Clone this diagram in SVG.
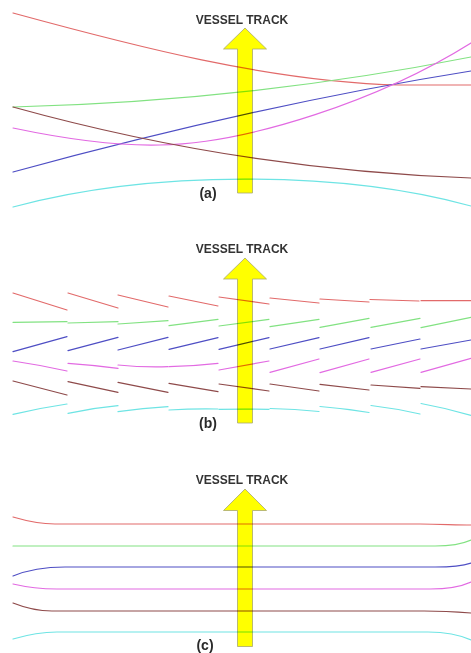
<svg xmlns="http://www.w3.org/2000/svg" width="471" height="653" viewBox="0 0 471 653">
<style>
.bg{fill:#ffffff}
.arrow{fill:#ffff00;stroke:#a8a870;stroke-width:0.8}
.title{font-family:"Liberation Sans",Arial,sans-serif;font-size:12px;font-weight:bold;fill:#333333;text-anchor:middle}
.lbl{font-family:"Liberation Sans",Arial,sans-serif;font-size:14px;font-weight:bold;fill:#2a2a2a;text-anchor:middle}
.tracks{mix-blend-mode:multiply}
.tracks path,.tracks line{fill:none;stroke-width:1.2;stroke-linecap:round}
.r{stroke:#e26a6a}
.g{stroke:#82e282}
.b{stroke:#4e4ec4}
.m{stroke:#e26ae2}
.br{stroke:#8e4a4a}
.c{stroke:#6ee4e4}
</style>
<rect class="bg" x="0" y="0" width="471" height="653"/>

<g id="panel-a">
  <g id="arrow-a">
    <path class="arrow" d="M245,28 L266.5,49 L252.5,49 L252.5,193 L237.5,193 L237.5,49 L223.5,49 Z"/>
    <text class="title" x="242" y="24">VESSEL TRACK</text>
  </g>
  <g id="label-a"><text class="lbl" x="208" y="198">(a)</text></g>
</g>

<g id="panel-b">
  <g id="arrow-b">
    <path class="arrow" d="M245,258 L266.5,279 L252.5,279 L252.5,423 L237.5,423 L237.5,279 L223.5,279 Z"/>
    <text class="title" x="242" y="253">VESSEL TRACK</text>
  </g>
  <g id="label-b"><text class="lbl" x="208" y="428">(b)</text></g>
</g>

<g id="panel-c">
  <g id="arrow-c">
    <path class="arrow" d="M245,489 L266.5,510.5 L252.5,510.5 L252.5,646.5 L237.5,646.5 L237.5,510.5 L223.5,510.5 Z"/>
    <text class="title" x="242" y="484">VESSEL TRACK</text>
  </g>
  <g id="label-c"><text class="lbl" x="205" y="650">(c)</text></g>
</g>

<g id="connectors" class="tracks">
  <!-- (a) continuous tracks -->
  <path class="r" d="M13,13 C130,45 270,82 400,85 L471,85"/>
  <path class="g" d="M13,107 C170,103 330,85 471,57"/>
  <path class="b" d="M13,172 C160,132 320,95 471,71"/>
  <path class="m" d="M13,128 C70,140 120,146 160,145 C250,143 380,100 471,43"/>
  <path class="br" d="M13,107 C150,145 300,172 471,178"/>
  <path class="c" d="M13,207 C150,170 340,170 471,206"/>

  <!-- (b) segmented tracks -->
  <g id="seg-red">
    <line class="r" x1="13" y1="293" x2="67" y2="310"/>
    <line class="r" x1="68" y1="293" x2="118" y2="308"/>
    <line class="r" x1="118" y1="295" x2="168" y2="307"/>
    <line class="r" x1="169" y1="296" x2="218" y2="306"/>
    <line class="r" x1="219" y1="297" x2="269" y2="304"/>
    <line class="r" x1="270" y1="298" x2="319" y2="303"/>
    <line class="r" x1="320" y1="299" x2="369" y2="302"/>
    <line class="r" x1="370" y1="299.5" x2="419" y2="301"/>
    <line class="r" x1="421" y1="300.7" x2="471" y2="300.7"/>
  </g>
  <g id="seg-green">
    <line class="g" x1="13" y1="322.3" x2="67" y2="321.7"/>
    <line class="g" x1="68" y1="323" x2="118" y2="321.7"/>
    <line class="g" x1="118" y1="324" x2="168" y2="320.7"/>
    <line class="g" x1="169" y1="325.7" x2="218" y2="319.3"/>
    <line class="g" x1="219" y1="326" x2="269" y2="319.3"/>
    <line class="g" x1="270" y1="326.7" x2="319" y2="319.3"/>
    <line class="g" x1="320" y1="327.3" x2="369" y2="318.3"/>
    <line class="g" x1="371" y1="327.3" x2="420" y2="318.3"/>
    <line class="g" x1="421" y1="327.7" x2="471" y2="317.3"/>
  </g>
  <g id="seg-blue">
    <line class="b" x1="13" y1="351.7" x2="67" y2="336.7"/>
    <line class="b" x1="68" y1="350.7" x2="118" y2="337.3"/>
    <line class="b" x1="118" y1="350" x2="168" y2="337.3"/>
    <line class="b" x1="169" y1="349.3" x2="218" y2="337.7"/>
    <line class="b" x1="219" y1="349.3" x2="269" y2="337.7"/>
    <line class="b" x1="270" y1="349" x2="319" y2="337.7"/>
    <line class="b" x1="320" y1="349" x2="369" y2="337.7"/>
    <line class="b" x1="371" y1="349" x2="420" y2="339"/>
    <line class="b" x1="421" y1="349" x2="471" y2="340"/>
  </g>
  <g id="seg-magenta">
    <path class="m" d="M13,361 Q40,365 67,371"/>
    <path class="m" d="M68,363.3 Q93,365 118,368.3"/>
    <path class="m" d="M118,365 Q143,367.5 168,366.7"/>
    <path class="m" d="M169,366.7 Q194,366 218,363.3"/>
    <line class="m" x1="219" y1="370" x2="269" y2="361"/>
    <line class="m" x1="270" y1="372.3" x2="319" y2="359"/>
    <line class="m" x1="320" y1="372.7" x2="369" y2="359"/>
    <line class="m" x1="371" y1="372.3" x2="420" y2="359"/>
    <line class="m" x1="421" y1="372.3" x2="471" y2="358.3"/>
  </g>
  <g id="seg-brown">
    <line class="br" x1="13" y1="381" x2="67" y2="395"/>
    <line class="br" x1="68" y1="381.7" x2="118" y2="392.3"/>
    <line class="br" x1="118" y1="382.3" x2="168" y2="392.3"/>
    <line class="br" x1="169" y1="383.3" x2="218" y2="391.7"/>
    <line class="br" x1="219" y1="384" x2="269" y2="391"/>
    <line class="br" x1="270" y1="384" x2="319" y2="391"/>
    <line class="br" x1="320" y1="384.3" x2="369" y2="390"/>
    <line class="br" x1="371" y1="385" x2="420" y2="388.3"/>
    <line class="br" x1="421" y1="386.7" x2="471" y2="389"/>
  </g>
  <g id="seg-cyan">
    <path class="c" d="M13,414.3 Q40,408 67,404"/>
    <path class="c" d="M68,413.3 Q93,408 118,405.7"/>
    <path class="c" d="M118,411.7 Q143,408 168,406.7"/>
    <path class="c" d="M169,410 Q194,408.5 218,409"/>
    <path class="c" d="M219,409.3 Q244,408.8 269,409.3"/>
    <path class="c" d="M270,408.5 Q295,409 319,411.5"/>
    <path class="c" d="M320,406.5 Q345,408.5 369,412.5"/>
    <path class="c" d="M371,405.5 Q396,408.5 420,414"/>
    <path class="c" d="M421,403.5 Q446,408 471,415.5"/>
  </g>

  <!-- (c) parallel tracks -->
  <path class="r" d="M13,517 C30,522 40,524 55,524 L420,524 C440,524 455,525 471,525"/>
  <path class="g" d="M13,546 L435,546 C450,546 462,544 471,540"/>
  <path class="b" d="M13,576 C30,569 45,567 65,567 L435,567 C452,567 462,566 471,563"/>
  <path class="m" d="M13,584 C30,588 40,589 57,589 L430,589 C448,589 460,587 471,582"/>
  <path class="br" d="M13,603 C28,609 38,611 52,611 L424,611 C445,611 458,612 471,613"/>
  <path class="c" d="M13,639 C30,634 42,632 57,632 L428,632 C448,632 460,635 471,640"/>
</g>
</svg>
